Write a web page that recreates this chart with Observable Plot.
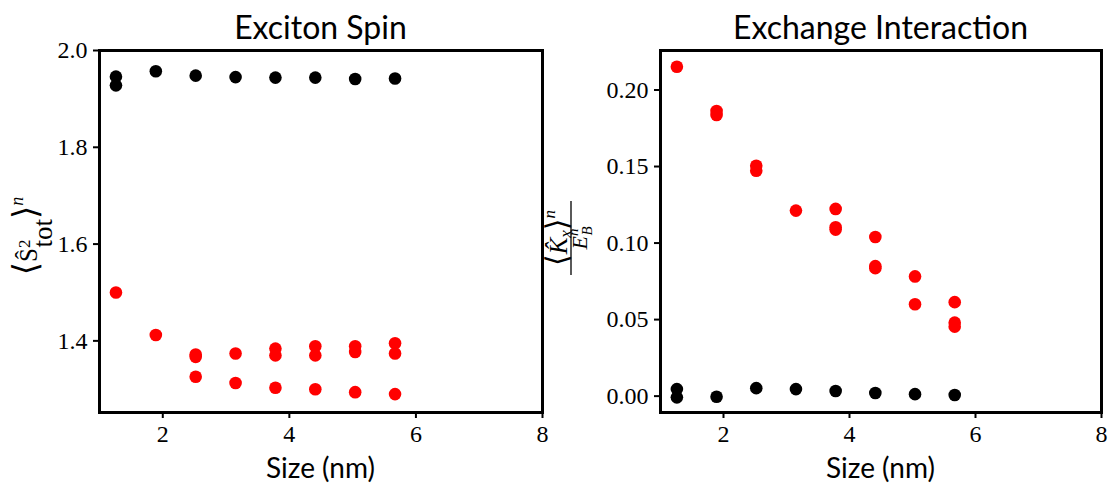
<!DOCTYPE html>
<html>
<head>
<meta charset="utf-8">
<script src="https://cdn.jsdelivr.net/npm/d3@7"></script>
<script src="https://cdn.jsdelivr.net/npm/@observablehq/plot@0.6"></script>
<style>
  html, body { margin: 0; padding: 0; background: #fff; }
  #wrap { position: relative; width: 1109px; height: 487px; overflow: hidden; background: #fff; }
  #wrap > div { position: absolute; top: 0; }
  svg { overflow: visible; }
</style>
</head>
<body>
<div id="wrap"><div id="left" style="left:0px"></div><div id="right" style="left:560px"></div></div>
<script>
// ---- data ----
const xTicks = [2, 4, 6, 8];
const spinTicks = [1.4, 1.6, 1.8, 2.0];
const exchTicks = [0, 0.05, 0.10, 0.15, 0.20];

const spinBlackX = [1.26, 1.26, 1.89, 2.52, 3.15, 3.78, 4.41, 5.04, 5.67];
const spinBlackY = [1.946, 1.928, 1.957, 1.948, 1.945, 1.944, 1.944, 1.941, 1.942];
const spinRedX = [1.26, 1.89, 2.52, 2.52, 2.52, 3.15, 3.15, 3.78, 3.78, 3.78, 4.41, 4.41, 4.41, 5.04, 5.04, 5.04, 5.67, 5.67, 5.67];
const spinRedY = [1.500, 1.412, 1.372, 1.367, 1.326, 1.374, 1.313, 1.384, 1.370, 1.303, 1.389, 1.370, 1.300, 1.389, 1.377, 1.294, 1.395, 1.374, 1.290];

const exchRedX = [1.26, 1.89, 1.89, 2.52, 2.52, 3.15, 3.78, 3.78, 3.78, 4.41, 4.41, 4.41, 5.04, 5.04, 5.67, 5.67, 5.67];
const exchRedY = [0.2152, 0.1863, 0.1837, 0.1505, 0.1472, 0.1212, 0.1223, 0.1103, 0.1088, 0.1040, 0.0849, 0.0836, 0.0782, 0.0600, 0.0614, 0.0480, 0.0454];
const exchBlackX = [1.26, 1.26, 1.89, 2.52, 3.15, 3.78, 4.41, 5.04, 5.67];
const exchBlackY = [0.0046, -0.0008, -0.0004, 0.0052, 0.0046, 0.0033, 0.0020, 0.0013, 0.0007];

const zip = (xs, ys) => xs.map((x, i) => ({x, y: ys[i]}));

const serif = "'Liberation Serif', 'DejaVu Serif', serif";
const sans = "Lato, 'Open Sans', sans-serif";
const R = 6.3;

function panel({width, marginLeft, marginRight, yDomain, yTicks, yFormat, black, red}) {
  return Plot.plot({
    width, height: 487,
    marginLeft, marginRight, marginTop: 50, marginBottom: 75,
    style: {fontFamily: serif, fontSize: "24px", color: "#000", background: "transparent", overflow: "visible"},
    x: {domain: [1, 8]},
    y: {domain: yDomain},
    marks: [
      Plot.dot(black, {x: "x", y: "y", r: R, fill: "#000"}),
      Plot.dot(red, {x: "x", y: "y", r: R, fill: "#ff0000"}),
      Plot.frame({stroke: "#000", strokeWidth: 3}),
      Plot.axisX({ticks: xTicks, tickFormat: d3.format("d"), tickSize: 6, tickPadding: 6, strokeWidth: 2, label: null, fontSize: 24, fontFamily: serif}),
      Plot.axisY({ticks: yTicks, tickFormat: yFormat, tickSize: 6, tickPadding: 6, strokeWidth: 2, label: null, fontSize: 24, fontFamily: serif})
    ]
  });
}

// ---- left panel ----
const left = panel({
  width: 560, marginLeft: 99, marginRight: 18,
  yDomain: [1.252, 2.0], yTicks: spinTicks, yFormat: d3.format(".1f"),
  black: zip(spinBlackX, spinBlackY), red: zip(spinRedX, spinRedY)
});
document.getElementById("left").appendChild(left);

// ---- right panel ----
const right = panel({
  width: 549, marginLeft: 100, marginRight: 8,
  yDomain: [-0.0107, 0.2258], yTicks: exchTicks, yFormat: d3.format(".2f"),
  black: zip(exchBlackX, exchBlackY), red: zip(exchRedX, exchRedY)
});
document.getElementById("right").appendChild(right);

// ---- titles and axis labels ----
function addTitle(svg, cx, text) {
  d3.select(svg).append("text").attr("x", cx).attr("y", 39)
    .attr("text-anchor", "middle").attr("font-family", sans).attr("font-size", 32).attr("fill", "#000").text(text);
}
function addXLabel(svg, cx, text) {
  d3.select(svg).append("text").attr("x", cx).attr("y", 478)
    .attr("text-anchor", "middle").attr("font-family", sans).attr("font-size", 28).attr("fill", "#000").text(text);
}
addTitle(left, 320.5, "Exciton Spin");
addTitle(right, 320.5, "Exchange Interaction");
addXLabel(left, 320.5, "Size (nm)");
addXLabel(right, 320.5, "Size (nm)");

// left y label: ⟨Ŝ²_tot⟩_n
{
  const g = d3.select(left).append("g").attr("transform", "translate(37,236) rotate(-90)");
  const t = g.append("text").attr("x", 0).attr("y", 0).attr("text-anchor", "middle")
    .attr("font-family", serif).attr("fill", "#000");
  t.append("tspan").attr("font-size", 34).text("⟨");
  t.append("tspan").attr("font-size", 25).text("Ŝ");
  t.append("tspan").attr("font-size", 17).attr("dy", -7).text("2");
  t.append("tspan").attr("font-size", 27).attr("dx", -8).attr("dy", 22).text("tot");
  t.append("tspan").attr("font-size", 34).attr("dy", -15).text("⟩");
  t.append("tspan").attr("font-size", 18).attr("font-style", "italic").attr("dy", -14).text("n");
}
// right y label: ⟨K̂_x⟩_n / E_B^n
{
  const g = d3.select(right).append("g").attr("transform", "translate(11,238) rotate(-90)");
  g.append("line").attr("x1", -37).attr("x2", 37).attr("y1", 0).attr("y2", 0)
    .attr("stroke", "#000").attr("stroke-width", 1.3);
  const n = g.append("text").attr("x", 0).attr("y", -4).attr("text-anchor", "middle")
    .attr("font-family", serif).attr("fill", "#000");
  n.append("tspan").attr("font-size", 30).text("⟨");
  n.append("tspan").attr("font-size", 25).attr("font-style", "italic").text("K̂");
  n.append("tspan").attr("font-size", 17).attr("font-style", "italic").attr("dy", 4).text("x");
  n.append("tspan").attr("font-size", 30).attr("dy", -4).text("⟩");
  n.append("tspan").attr("font-size", 17).attr("font-style", "italic").attr("dy", -12).text("n");
  const d = g.append("text").attr("x", 0).attr("y", 16).attr("text-anchor", "middle")
    .attr("font-family", serif).attr("fill", "#000");
  d.append("tspan").attr("font-size", 22).attr("font-style", "italic").text("E");
  d.append("tspan").attr("font-size", 15).attr("font-style", "italic").attr("dy", -9).text("n");
  d.append("tspan").attr("font-size", 15).attr("font-style", "italic").attr("dx", -7).attr("dy", 14).text("B");
}
</script>
</body>
</html>
